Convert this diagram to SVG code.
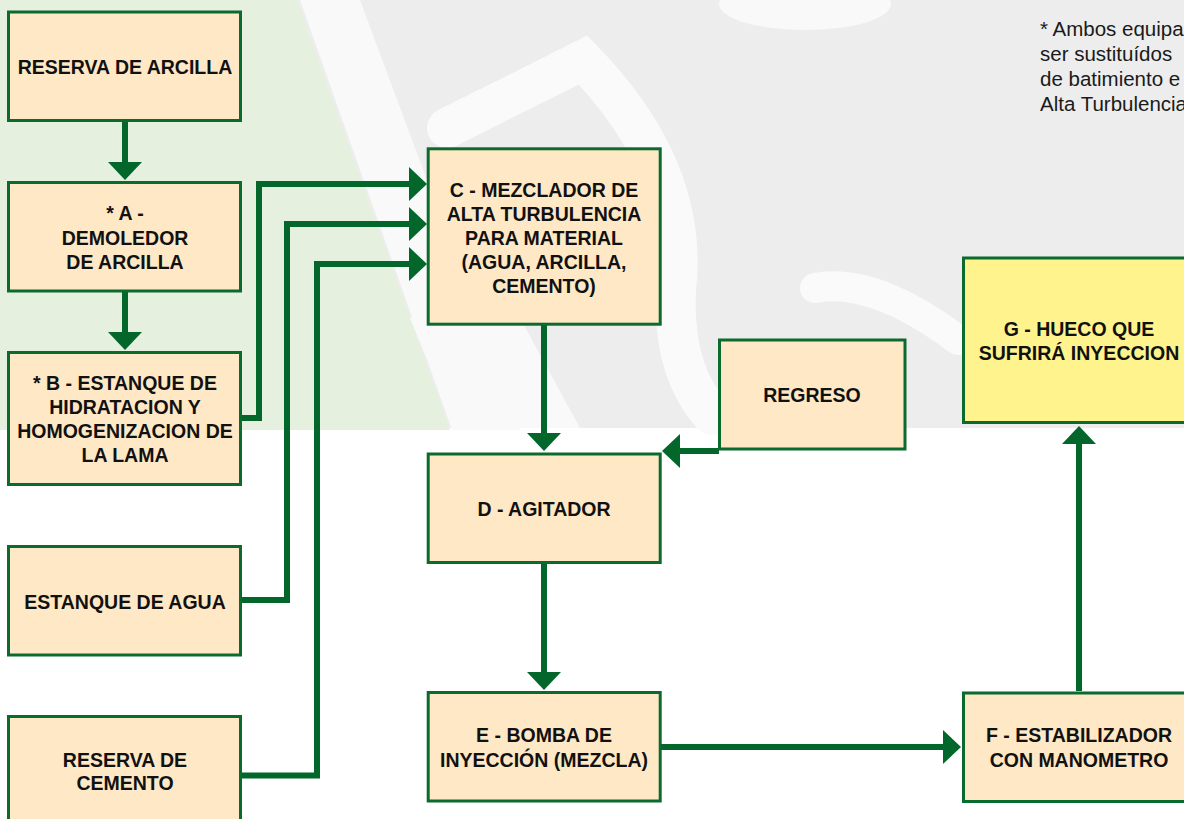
<svg xmlns="http://www.w3.org/2000/svg" width="1184" height="819" viewBox="0 0 1184 819">
<style>
.box{fill:#ffe8c5;stroke:#0b6a2d;stroke-width:3}
.yel{fill:#fff38d;stroke:#0b6a2d;stroke-width:3}
.lbl{font-family:"Liberation Sans",Arial,sans-serif;font-weight:bold;font-size:19.5px;fill:#111;text-anchor:middle}
.note{font-family:"Liberation Sans",Arial,sans-serif;font-size:20.5px;fill:#1a1a1a}
.con{fill:none;stroke:#03672b;stroke-width:6;stroke-linejoin:miter;stroke-linecap:butt;marker-end:url(#ah)}
.wm{fill:none;stroke:#fafafa;stroke-linecap:round}
</style>
<defs>
<marker id="ah" markerUnits="userSpaceOnUse" markerWidth="20" markerHeight="36" refX="0" refY="17" orient="auto" overflow="visible">
<path d="M0,0 L18,17 L0,34 z" fill="#03672b"/>
</marker>
</defs>
<rect width="1184" height="819" fill="#ffffff"/>
<g id="watermark">
<rect x="0" y="0" width="1184" height="428" fill="#ededed"/>
<polygon points="0,0 297,0 450,430 0,430" fill="#e6f0df"/>
<polygon points="300,0 360,0 520,430 452,430" fill="#f9f9f9"/>
<polygon points="410,318 520,318 580,428 455,428" fill="#f9f9f9"/>
<path class="wm" d="M447,128 L583,60 Q690,170 676,290 Q672,370 712,415" stroke-width="40"/>
<path class="wm" d="M815,288 C855,280 905,300 958,340" stroke-width="30"/>
<ellipse cx="805" cy="4" rx="86" ry="26" fill="#f9f9f9"/>
</g>
<g id="connectors">
<path class="con" d="M125,122 V162"/>
<path class="con" d="M125,292 V332"/>
<path class="con" d="M242,418 H259 V184 H409"/>
<path class="con" d="M242,600 H287 V224 H409"/>
<path class="con" d="M242,775.5 H317 V264 H409"/>
<path class="con" d="M544,325 V433"/>
<path class="con" d="M544,564 V672"/>
<path class="con" d="M719,451 H680"/>
<path class="con" d="M661,747 H943"/>
<path class="con" d="M1079,691 V444"/>
</g>
<g id="reserva-arcilla">
<rect class="box" x="8.5" y="12" width="232" height="108.5"/>
<text class="lbl" x="125" y="74">RESERVA DE ARCILLA</text>
</g>
<g id="demoledor">
<rect class="box" x="8.5" y="182.5" width="232" height="108.5"/>
<text class="lbl" x="125" y="220">* A -</text>
<text class="lbl" x="125" y="244.5">DEMOLEDOR</text>
<text class="lbl" x="125" y="269">DE ARCILLA</text>
</g>
<g id="estanque-hidratacion">
<rect class="box" x="8.5" y="352.5" width="232" height="132"/>
<text class="lbl" x="125" y="390">* B - ESTANQUE DE</text>
<text class="lbl" x="125" y="414">HIDRATACION Y</text>
<text class="lbl" x="125" y="438">HOMOGENIZACION DE</text>
<text class="lbl" x="125" y="462">LA LAMA</text>
</g>
<g id="estanque-agua">
<rect class="box" x="8.5" y="546.5" width="232" height="108.5"/>
<text class="lbl" x="125" y="608.5">ESTANQUE DE AGUA</text>
</g>
<g id="reserva-cemento">
<rect class="box" x="8.5" y="716.5" width="232" height="110"/>
<text class="lbl" x="125" y="766.5">RESERVA DE</text>
<text class="lbl" x="125" y="790">CEMENTO</text>
</g>
<g id="mezclador">
<rect class="box" x="428.2" y="148.8" width="232" height="175.4"/>
<text class="lbl" x="544" y="196.5">C - MEZCLADOR DE</text>
<text class="lbl" x="544" y="220.5">ALTA TURBULENCIA</text>
<text class="lbl" x="544" y="244.5">PARA MATERIAL</text>
<text class="lbl" x="544" y="268.5">(AGUA, ARCILLA,</text>
<text class="lbl" x="544" y="292.5">CEMENTO)</text>
</g>
<g id="agitador">
<rect class="box" x="428.2" y="454" width="232" height="108.5"/>
<text class="lbl" x="544" y="516">D - AGITADOR</text>
</g>
<g id="bomba">
<rect class="box" x="428.2" y="692.5" width="232" height="108.5"/>
<text class="lbl" x="544" y="742">E - BOMBA DE</text>
<text class="lbl" x="544" y="766.5">INYECCIÓN (MEZCLA)</text>
</g>
<g id="regreso">
<rect class="box" x="719.5" y="340" width="185.5" height="109"/>
<text class="lbl" x="812" y="402">REGRESO</text>
</g>
<g id="hueco">
<rect class="yel" x="963.5" y="258" width="232" height="164.5"/>
<text class="lbl" x="1079" y="336">G - HUECO QUE</text>
<text class="lbl" x="1079" y="360">SUFRIRÁ INYECCION</text>
</g>
<g id="estabilizador">
<rect class="box" x="963.5" y="693" width="232" height="108.5"/>
<text class="lbl" x="1079" y="742">F - ESTABILIZADOR</text>
<text class="lbl" x="1079" y="766.5">CON MANOMETRO</text>
</g>
<g id="nota">
<text class="note" x="1040" y="35.5">* Ambos equipa</text>
<text class="note" x="1040" y="60.5">ser sustituídos</text>
<text class="note" x="1040" y="85.5">de batimiento e</text>
<text class="note" x="1040" y="110.5">Alta Turbulencia</text>
</g>
</svg>
